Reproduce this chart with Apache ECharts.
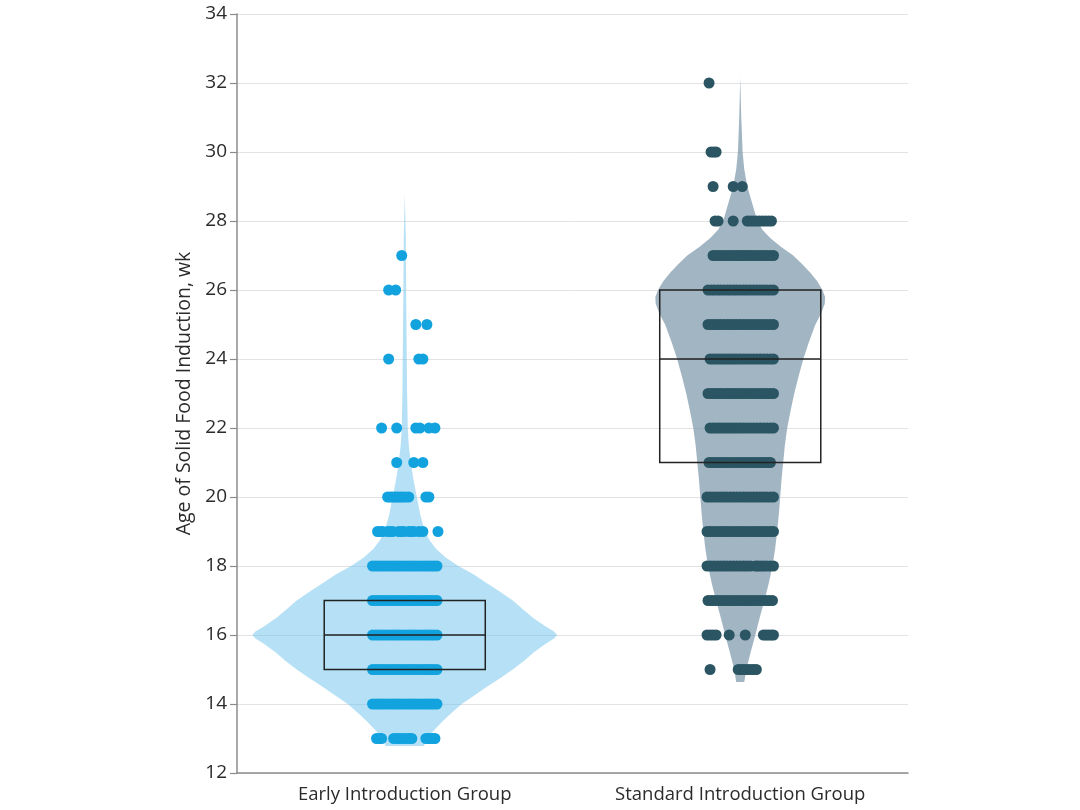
<!DOCTYPE html>
<html><head><meta charset="utf-8">
<script src="https://cdn.jsdelivr.net/npm/echarts@6/dist/echarts.min.js"></script>
<style>html,body{margin:0;padding:0;background:#fff}#c{width:1080px;height:810px}</style>
</head><body><div id="c"></div>
<script>
// ---- Data ----
const categories = ['Early Introduction Group', 'Standard Introduction Group'];
const yMin = 12, yMax = 34, yStep = 2;

// Box summary: [Q1, median, Q3] (weeks)
const earlyBox = [15, 16, 17];
const standardBox = [21, 24, 26];

// Violin outline: weeks and half-width (in category-width units)
const earlyViolinWeeks = [12.78, 13.0, 13.25, 13.5, 13.75, 14.0, 14.25, 14.5, 14.75, 15.0, 15.25, 15.5, 15.75, 15.9, 16.0, 16.1, 16.25, 16.5, 16.75, 17.0, 17.25, 17.5, 17.75, 18.0, 18.25, 18.5, 18.75, 19.0, 19.5, 20.0, 20.5, 21.0, 21.5, 22.0, 23.0, 24.0, 26.0, 27.5, 28.8];
const earlyViolinHalf  = [0.057, 0.066, 0.088, 0.113, 0.140, 0.170, 0.207, 0.245, 0.284, 0.322, 0.355, 0.385, 0.420, 0.445, 0.454, 0.445, 0.420, 0.382, 0.352, 0.322, 0.285, 0.245, 0.207, 0.160, 0.122, 0.093, 0.074, 0.060, 0.046, 0.036, 0.026, 0.018, 0.012, 0.009, 0.007, 0.006, 0.004, 0.003, 0.0];
const standardViolinWeeks = [14.64, 15.0, 15.5, 16.0, 16.5, 17.0, 17.5, 18.0, 18.5, 19.0, 19.5, 20.0, 20.5, 21.0, 21.5, 22.0, 22.5, 23.0, 23.5, 24.0, 24.5, 25.0, 25.3, 25.6, 25.8, 26.0, 26.25, 26.5, 26.75, 27.0, 27.25, 27.5, 27.75, 28.0, 28.5, 29.0, 29.5, 30.0, 31.0, 32.17];
const standardViolinHalf  = [0.012, 0.018, 0.031, 0.045, 0.058, 0.072, 0.085, 0.096, 0.104, 0.110, 0.115, 0.119, 0.123, 0.128, 0.133, 0.140, 0.150, 0.161, 0.174, 0.188, 0.205, 0.224, 0.240, 0.252, 0.253, 0.245, 0.230, 0.209, 0.185, 0.158, 0.122, 0.090, 0.066, 0.051, 0.036, 0.021, 0.012, 0.007, 0.003, 0.0];

// Individual observations: week of each row and horizontal jitter of each dot (category-width units)
const earlyDotWeeks = [13, 14, 15, 16, 17, 18, 19, 20, 21, 22, 24, 25, 26, 27];
const earlyDotJitter = [
  [-0.084, -0.075, -0.069, -0.033, -0.024, -0.015, -0.005, 0.006, 0.014, 0.021, 0.063, 0.069, 0.075, 0.083, 0.090],
  [-0.096, -0.086, -0.077, -0.067, -0.058, -0.048, -0.038, -0.029, -0.019, -0.010, 0.0, 0.010, 0.019, 0.029, 0.038, 0.048, 0.058, 0.067, 0.077, 0.086, 0.096],
  [-0.096, -0.086, -0.077, -0.067, -0.058, -0.048, -0.038, -0.029, -0.019, -0.010, 0.0, 0.010, 0.019, 0.029, 0.038, 0.048, 0.058, 0.067, 0.077, 0.086, 0.096],
  [-0.096, -0.086, -0.077, -0.067, -0.058, -0.048, -0.038, -0.029, -0.019, -0.010, 0.0, 0.010, 0.019, 0.029, 0.038, 0.048, 0.058, 0.067, 0.077, 0.086, 0.096],
  [-0.096, -0.086, -0.077, -0.067, -0.058, -0.048, -0.038, -0.029, -0.019, -0.010, 0.0, 0.010, 0.019, 0.029, 0.038, 0.048, 0.058, 0.067, 0.077, 0.086, 0.096],
  [-0.096, -0.086, -0.077, -0.067, -0.058, -0.048, -0.038, -0.029, -0.019, -0.010, 0.0, 0.010, 0.019, 0.029, 0.038, 0.048, 0.058, 0.067, 0.077, 0.086, 0.096],
  [-0.081, -0.072, -0.066, -0.051, -0.042, -0.036, -0.018, -0.009, -0.003, 0.012, 0.020, 0.027, 0.042, 0.054, 0.099],
  [-0.051, -0.043, -0.036, -0.028, -0.021, -0.013, -0.006, 0.003, 0.012, 0.063, 0.072],
  [-0.024, 0.027, 0.054],
  [-0.069, -0.024, 0.033, 0.045, 0.072, 0.090],
  [-0.048, 0.042, 0.054],
  [0.033, 0.066],
  [-0.048, -0.027],
  [-0.009]
];
const standardDotWeeks = [15, 16, 17, 18, 19, 20, 21, 22, 23, 24, 25, 26, 27, 28, 29, 30, 32];
const standardDotJitter = [
  [-0.090, -0.006, 0.003, 0.012, 0.021, 0.030, 0.039, 0.048],
  [-0.099, -0.090, -0.081, -0.072, -0.033, 0.015, 0.069, 0.077, 0.084, 0.092, 0.099],
  [-0.096, -0.086, -0.077, -0.067, -0.058, -0.048, -0.038, -0.029, -0.019, -0.010, 0.0, 0.010, 0.019, 0.029, 0.038, 0.048, 0.058, 0.067, 0.077, 0.086, 0.096],
  [-0.099, -0.089, -0.079, -0.069, -0.059, -0.049, -0.040, -0.030, -0.020, -0.010, 0.0, 0.010, 0.020, 0.030, 0.045, 0.052, 0.060, 0.069, 0.078, 0.089, 0.099],
  [-0.099, -0.089, -0.079, -0.069, -0.059, -0.049, -0.040, -0.030, -0.020, -0.010, 0.0, 0.010, 0.020, 0.030, 0.040, 0.049, 0.059, 0.069, 0.079, 0.089, 0.099],
  [-0.099, -0.089, -0.079, -0.069, -0.059, -0.049, -0.040, -0.030, -0.020, -0.010, 0.0, 0.010, 0.020, 0.030, 0.040, 0.049, 0.059, 0.069, 0.079, 0.089, 0.099],
  [-0.093, -0.084, -0.075, -0.066, -0.057, -0.048, -0.039, -0.029, -0.019, -0.010, 0.0, 0.010, 0.019, 0.029, 0.039, 0.048, 0.057, 0.066, 0.075, 0.083, 0.090],
  [-0.090, -0.081, -0.072, -0.063, -0.054, -0.045, -0.036, -0.027, -0.018, -0.009, 0.0, 0.010, 0.020, 0.030, 0.040, 0.050, 0.060, 0.070, 0.080, 0.090, 0.099],
  [-0.096, -0.086, -0.077, -0.067, -0.058, -0.048, -0.038, -0.029, -0.019, -0.010, 0.0, 0.010, 0.019, 0.029, 0.039, 0.049, 0.059, 0.069, 0.079, 0.089, 0.099],
  [-0.090, -0.081, -0.072, -0.063, -0.054, -0.045, -0.036, -0.027, -0.018, -0.009, 0.0, 0.010, 0.020, 0.030, 0.040, 0.050, 0.060, 0.070, 0.080, 0.090, 0.099],
  [-0.096, -0.086, -0.077, -0.067, -0.058, -0.048, -0.038, -0.029, -0.019, -0.010, 0.0, 0.010, 0.019, 0.029, 0.039, 0.049, 0.059, 0.069, 0.079, 0.089, 0.099],
  [-0.096, -0.086, -0.077, -0.067, -0.058, -0.048, -0.038, -0.029, -0.019, -0.010, 0.0, 0.010, 0.019, 0.029, 0.039, 0.049, 0.059, 0.069, 0.079, 0.089, 0.099],
  [-0.081, -0.072, -0.063, -0.054, -0.045, -0.036, -0.027, -0.018, -0.009, 0.0, 0.006, 0.015, 0.024, 0.033, 0.042, 0.051, 0.060, 0.069, 0.078, 0.089, 0.099],
  [-0.075, -0.066, -0.021, 0.021, 0.030, 0.039, 0.048, 0.057, 0.066, 0.075, 0.084, 0.093],
  [-0.081, -0.021, 0.006],
  [-0.087, -0.079, -0.072],
  [-0.093]
];

// ---- Build series data ----
function dots(catIndex, weeks, jitter) {
  const out = [];
  weeks.forEach((w, i) => jitter[i].forEach(j => out.push([catIndex + j, w])));
  return out;
}
const violins = [
  { weeks: earlyViolinWeeks, half: earlyViolinHalf },
  { weeks: standardViolinWeeks, half: standardViolinHalf }
];
const boxes = [earlyBox, standardBox];

const chart = echarts.init(document.getElementById('c'));
const FONT = 'Open Sans';
const BOX_HALF = 0.24;

chart.setOption({
  animation: false,
  backgroundColor: '#ffffff',
  textStyle: { fontFamily: FONT },
  grid: { left: 237, right: 172, top: 14, bottom: 37, containLabel: false },
  xAxis: [
    {
      type: 'category', data: categories, boundaryGap: true,
      axisLine: { lineStyle: { color: '#8c8c8c', width: 1.5 } },
      axisTick: { show: false },
      axisLabel: { fontSize: 18.5, color: '#2b2b2b', margin: 12, fontFamily: FONT },
      splitLine: { show: false }
    },
    { type: 'value', min: -0.5, max: 1.5, show: false }
  ],
  yAxis: {
    type: 'value', min: yMin, max: yMax, interval: yStep,
    name: 'Age of Solid Food Induction, wk', nameLocation: 'middle', nameGap: 43,
    nameTextStyle: { fontSize: 19.5, color: '#2b2b2b', fontFamily: FONT },
    axisLine: { show: true, onZero: false, lineStyle: { color: '#8c8c8c', width: 1.5 } },
    axisTick: { show: true, length: 7, lineStyle: { color: '#8c8c8c', width: 1.2 } },
    axisLabel: { fontSize: 19, color: '#2b2b2b', margin: 10, fontFamily: FONT },
    splitLine: { show: true, lineStyle: { color: '#e2e2e2', width: 1 } }
  },
  series: [
    {
      type: 'custom', xAxisIndex: 1, z: 1,
      data: [[0, 16], [1, 24]],
      renderItem: function (params, api) {
        const c = api.value(0);
        const v = violins[params.dataIndex];
        const pts = [];
        for (let i = 0; i < v.weeks.length; i++) pts.push(api.coord([c + v.half[i], v.weeks[i]]));
        for (let i = v.weeks.length - 1; i >= 0; i--) pts.push(api.coord([c - v.half[i], v.weeks[i]]));
        return {
          type: 'polygon',
          shape: { points: pts },
          style: { fill: params.dataIndex === 0 ? 'rgba(108,194,236,0.5)' : 'rgba(118,146,166,0.68)' }
        };
      }
    },
    {
      type: 'scatter', xAxisIndex: 1, z: 2, symbolSize: 11,
      data: dots(0, earlyDotWeeks, earlyDotJitter),
      itemStyle: { color: '#12a3df', opacity: 1 }
    },
    {
      type: 'scatter', xAxisIndex: 1, z: 2, symbolSize: 11,
      data: dots(1, standardDotWeeks, standardDotJitter),
      itemStyle: { color: '#2b5563', opacity: 1 }
    },
    {
      type: 'custom', xAxisIndex: 1, z: 3,
      data: [[0, 16], [1, 24]],
      renderItem: function (params, api) {
        const c = api.value(0);
        const b = boxes[params.dataIndex];
        const tl = api.coord([c - BOX_HALF, b[2]]);
        const br = api.coord([c + BOX_HALF, b[0]]);
        const ml = api.coord([c - BOX_HALF, b[1]]);
        const mr = api.coord([c + BOX_HALF, b[1]]);
        return {
          type: 'group',
          children: [
            { type: 'rect', shape: { x: tl[0], y: tl[1], width: br[0] - tl[0], height: br[1] - tl[1] },
              style: { fill: 'none', stroke: '#222', lineWidth: 1.5 } },
            { type: 'line', shape: { x1: ml[0], y1: ml[1], x2: mr[0], y2: mr[1] },
              style: { stroke: '#222', lineWidth: 1.5 } }
          ]
        };
      }
    }
  ]
});
</script>
</body></html>
